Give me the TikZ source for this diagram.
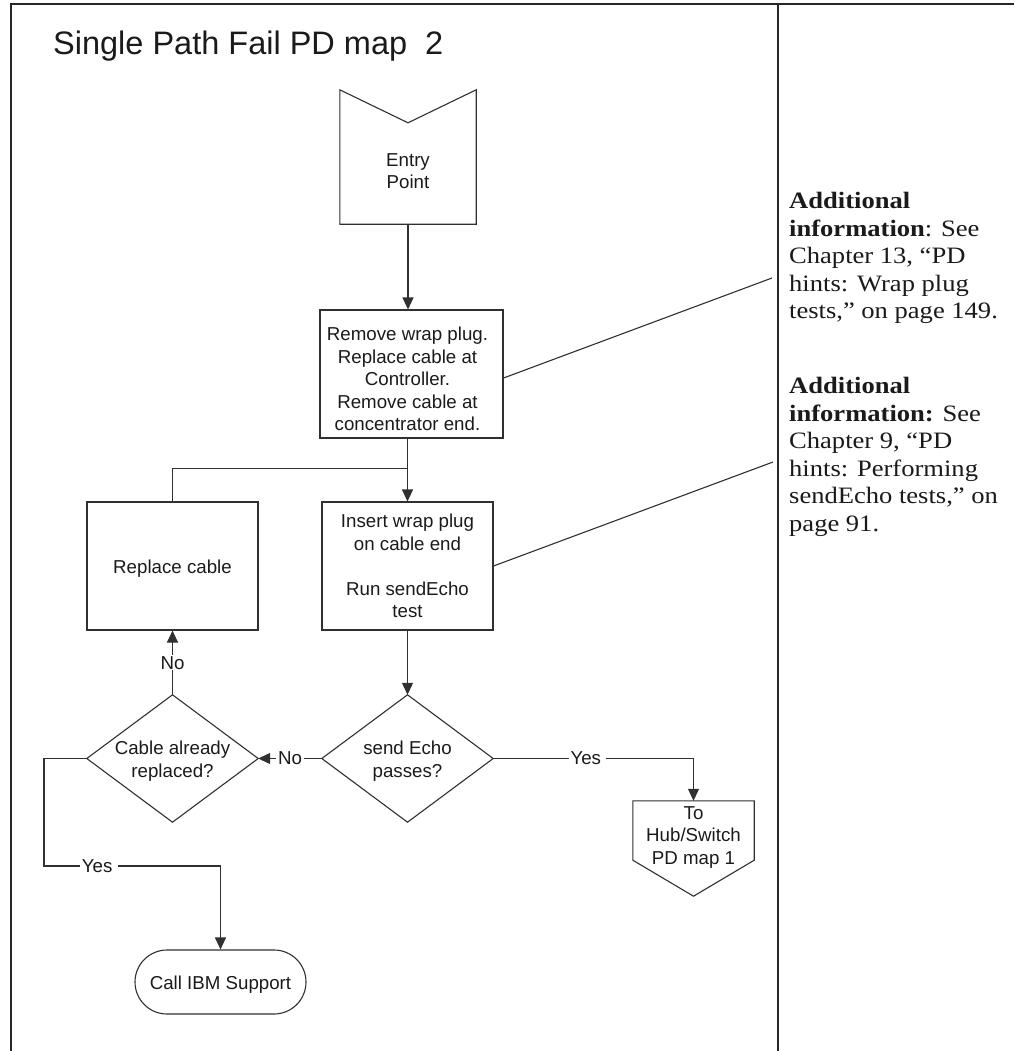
\documentclass[tikz,border=0pt]{standalone}
\usepackage{fontspec}
\setmainfont{Liberation Sans}
\newfontfamily\notefont[FakeStretch=1.13]{Liberation Serif}
\usetikzlibrary{arrows.meta,calc}
\definecolor{ink}{HTML}{1A1A1A}
\definecolor{linec}{HTML}{303030}
\tikzset{
  conn/.style={draw=linec, line width=1.1pt},
  arr/.style={conn, -{Triangle[length=12pt,width=11pt]}},
  body/.style={font=\fontsize{18.7}{22.5}\selectfont, align=center, inner sep=0pt, text=ink},
  lbl/.style={body, fill=white, inner xsep=2pt, inner ysep=1pt},
  procbox/.style={draw=linec, line width=1.1pt, inner sep=0pt, minimum width=171pt, minimum height=128pt},
  ghost/.style={inner sep=0pt, minimum width=171pt, minimum height=127pt},
  frameline/.style={draw=black!85, line width=1.6pt},
  note/.style={anchor=north west, align=left, inner sep=0pt, text=ink, font=\notefont\fontsize{23.5}{27.5}\selectfont},
}
\begin{document}
\begin{tikzpicture}[x=1pt,y=-1pt]
\useasboundingbox (0,0) rectangle (1014,1051);
% frame
\coordinate (ftl) at (11,4);
\coordinate (ftr) at (1014,4);
\coordinate (fbl) at (11,1051);
\coordinate (dtop) at (778,4);
\coordinate (dbot) at (778,1051);
\draw[frameline] (fbl) -- (ftl) -- (ftr);
\draw[frameline] (dtop) -- (dbot);

% title
\node[anchor=base west, inner sep=0pt, text=ink, font=\fontsize{32.5}{36}\selectfont] (title) at (53,55) {Single Path Fail PD map\ \ 2};

% entry point
\node[minimum width=136pt, minimum height=134pt, inner sep=0pt] (entry) at (408,157) {};
\draw[conn] (entry.north west) -- ($(entry.north)+(0,33)$) -- (entry.north east) -- (entry.south east) -- (entry.south west) -- cycle;
\node[body] (entrytxt) at (408,171) {Entry\\Point};

% boxes
\node[procbox, minimum width=183pt] (remove) at (411.5,374) {};
\node[body] (removetxt) at (407.5,379) {Remove wrap plug.\\Replace cable at\\Controller.\\Remove cable at\\concentrator end.};
\node[procbox] (insert) at (407.5,566) {};
\node[body] (inserttxt) at (407.5,566) {Insert wrap plug\\on cable end\\\mbox{}\\Run sendEcho\\test};
\node[procbox] (replace) at (172.5,566) {};
\node[body] (replacetxt) at (172.5,569) {Replace cable};

\draw[arr] (entry.south) -- (entry.south |- remove.north);
\draw[arr] (remove.south -| insert.north) -- (insert.north);
\draw[conn] (replace.north) |- ($(remove.south -| insert.north)+(0,30)$);

% decisions
\node[ghost] (echo) at (407.5,758.5) {};
\node[body] (echotxt) at (407.5,761) {send Echo\\passes?};
\node[ghost] (cable) at (172.5,758.5) {};
\node[body] (cabletxt) at (172.5,761) {Cable already\\replaced?};
\draw[conn] (echo.north) -- (echo.east) -- (echo.south) -- (echo.west) -- cycle;
\draw[conn] (cable.north) -- (cable.east) -- (cable.south) -- (cable.west) -- cycle;

\draw[arr] (insert.south) -- (echo.north);
\draw[arr] (echo.west) -- node[lbl]{No} (cable.east);
\draw[arr] (cable.north) -- node[lbl]{No} (replace.south);

% off-page connector
\node[minimum width=121pt, minimum height=95pt, inner sep=0pt] (topage) at (693.5,848.5) {};
\draw[conn] (topage.north west) -- (topage.north east) -- ($(topage.south east)+(0,-36)$) -- (topage.south) -- ($(topage.south west)+(0,-36)$) -- cycle;
\node[body] (topagetxt) at (693.5,837) {To\\Hub/Switch\\PD map 1};
\draw[arr] (echo.east) -- node[lbl,pos=0.47]{Yes\,} (echo.east -| topage.north) -- (topage.north);

% terminal
\node[draw=linec, line width=1.1pt, inner sep=0pt, rounded corners=32pt, minimum width=171pt, minimum height=64pt] (call) at (220.5,982) {};
\node[body] (calltxt) at (220.5,985) {Call IBM Support};
\coordinate (yesleft) at (44,758.5);
\coordinate (yesbend) at (44,866);
\draw[arr] (cable.west) -- (yesleft) -- (yesbend) -- node[lbl,pos=0.31]{Yes\,} (yesbend -| call.north) -- (call.north);

% leaders and notes
\coordinate (note1) at (772,278);
\coordinate (note2) at (773,462);
\draw[conn] ($(remove.east)+(0,4)$) -- (note1);
\draw[conn] (insert.east) -- (note2);

\node[note] (n1) at (789,192) {\textbf{Additional}\\\textbf{information}: See\\Chapter 13, “PD\\hints: Wrap plug\\tests,” on page 149.};
\node[note] (n2) at (789,377) {\textbf{Additional}\\\textbf{information:} See\\Chapter 9, “PD\\hints: Performing\\sendEcho tests,” on\\page 91.};
\end{tikzpicture}
\end{document}
